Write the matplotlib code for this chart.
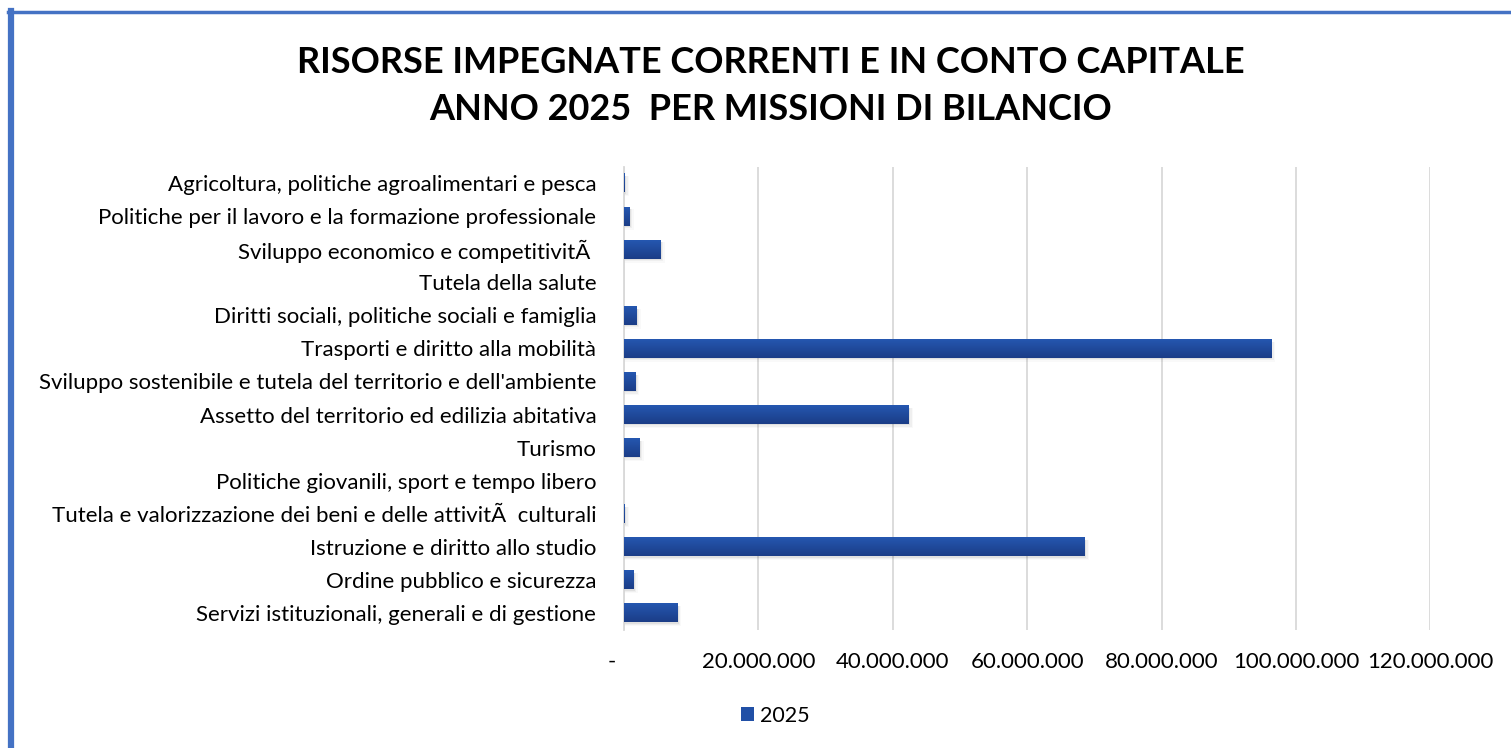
"""Horizontal bar chart of committed resources by budget mission, year 2025"""

import matplotlib

matplotlib.use("Agg")
import numpy as np
from matplotlib import pyplot as plt
from matplotlib.colors import LinearSegmentedColormap
from matplotlib.lines import Line2D
from matplotlib.ticker import FuncFormatter

plt.rcParams["font.family"] = ["Lato", "DejaVu Sans"]

missions = [
    "Servizi istituzionali, generali e di gestione",
    "Ordine pubblico e sicurezza",
    "Istruzione e diritto allo studio",
    "Tutela e valorizzazione dei beni e delle attivitÃ\u00a0 culturali",
    "Politiche giovanili, sport e tempo libero",
    "Turismo",
    "Assetto del territorio ed edilizia abitativa",
    "Sviluppo sostenibile e tutela del territorio e dell'ambiente",
    "Trasporti e diritto alla mobilità",
    "Diritti sociali, politiche sociali e famiglia",
    "Tutela della salute",
    "Sviluppo economico e competitivitÃ\u00a0",
    "Politiche per il lavoro e la formazione professionale",
    "Agricoltura, politiche agroalimentari e pesca",
]
resources_2025 = [
    7_930_000,
    1_420_000,
    68_600_000,
    120_000,
    0,
    2_310_000,
    42_400_000,
    1_670_000,
    96_300_000,
    1_860_000,
    0,
    5_440_000,
    820_000,
    130_000,
]
x_ticks = [0, 20_000_000, 40_000_000, 60_000_000, 80_000_000, 100_000_000, 120_000_000]

BAR_COLOR = "#2150A6"
BAR_TOP = "#2557B0"
BAR_BOTTOM = "#1B3D87"
GRID_COLOR = "#D9D9D9"
FRAME_COLOR = "#4472C4"
BAR_HEIGHT = 0.57


def thousands(value, _pos):
    if value == 0:
        # accounting style dash, padded so it sits left of the zero line
        return "-    "
    return f"{value:,.0f}".replace(",", ".")


def shade_bars(axis, bars):
    """Paint a top-to-bottom gradient over each bar, with a soft shadow below"""
    cmap = LinearSegmentedColormap.from_list("bar", [BAR_TOP, BAR_BOTTOM])
    gradient = np.linspace(0, 1, 64).reshape(-1, 1)
    for bar in bars:
        x0, y0 = bar.get_x(), bar.get_y()
        width, height = bar.get_width(), bar.get_height()
        if width <= 0:
            continue
        for k, alpha in enumerate((0.06, 0.04, 0.025)):
            grow = 200_000 * (k + 1)
            axis.fill_between([x0, x0 + width + grow],
                              y0 - 0.04 * (k + 1), y0 + height - 0.08,
                              color="#000000", alpha=alpha, linewidth=0, zorder=2)
        axis.imshow(gradient, cmap=cmap, aspect="auto", interpolation="bilinear",
                    extent=[x0, x0 + width, y0, y0 + height], origin="upper",
                    zorder=4)


def main():
    fig = plt.figure(figsize=(15.11, 7.48), dpi=100)

    # chart frame (only the top and left edges fall inside the image)
    fig.add_artist(Line2D([0.0075, 0.0075], [0, 0.985], color=FRAME_COLOR,
                          lw=4.5, transform=fig.transFigure))
    fig.add_artist(Line2D([0.0055, 1], [0.9845, 0.9845], color=FRAME_COLOR,
                          lw=2.5, transform=fig.transFigure))

    fig.text(0.51, 0.917, "RISORSE IMPEGNATE CORRENTI E IN CONTO CAPITALE",
             ha="center", va="center", fontsize=26, fontweight="bold")
    fig.text(0.51, 0.853, "ANNO 2025  PER MISSIONI DI BILANCIO",
             ha="center", va="center", fontsize=26, fontweight="bold")

    axis = fig.add_axes([0.413, 0.1584, 0.5336, 0.619])
    positions = list(range(len(missions)))

    bars = axis.barh(positions, resources_2025, height=BAR_HEIGHT, color=BAR_COLOR,
                     zorder=3, linewidth=0, label="2025")
    shade_bars(axis, bars)

    axis.set_xlim(0, 120_000_000)
    axis.set_ylim(-0.5, len(missions) - 0.5)
    axis.set_xticks(x_ticks)
    axis.xaxis.set_major_formatter(FuncFormatter(thousands))
    axis.set_yticks(positions)
    axis.set_yticklabels(missions)
    axis.tick_params(axis="x", length=0, pad=16, labelsize=16, colors="#000000")
    axis.tick_params(axis="y", length=0, pad=20, labelsize=16, colors="#000000")
    axis.grid(axis="x", color=GRID_COLOR, linewidth=1.3, zorder=0)
    axis.set_axisbelow(True)
    for side in ("top", "right", "bottom"):
        axis.spines[side].set_visible(False)
    axis.spines["left"].set_color(GRID_COLOR)
    axis.spines["left"].set_linewidth(1.3)

    handles, labels = axis.get_legend_handles_labels()
    fig.legend(handles[-1:], labels[-1:], loc="center", bbox_to_anchor=(0.513, 0.043),
               frameon=False, fontsize=15.5, handlelength=0.6, handleheight=0.6,
               handletextpad=0.3)

    fig.savefig("out.png", dpi=100)


if __name__ == "__main__":
    main()
